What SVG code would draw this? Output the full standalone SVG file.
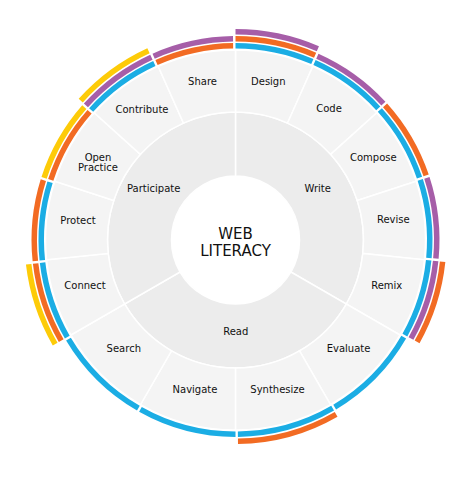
<svg xmlns="http://www.w3.org/2000/svg" width="475" height="477" viewBox="0 0 475 477">
<style>
.seg{stroke:#fff;stroke-width:1.5}
.outer{fill:#f4f4f4}
.mid{fill:#ececec}
.blue{fill:#1badE4}
.orange{fill:#f26b23}
.purple{fill:#a65ea8}
.yellow{fill:#fdcb08}
text{font-family:"DejaVu Sans",Verdana,sans-serif;font-size:10px;fill:#111;text-anchor:middle}
text.title{font-size:15px}
</style>
<defs>
<path id="o24" d="M0,-190 A190,190 0 0 1 77.28,-173.57 L52.06,-116.93 A128,128 0 0 0 0,-128 Z"/>
<path id="o30" d="M0,-190 A190,190 0 0 1 95,-164.54 L64,-110.85 A128,128 0 0 0 0,-128 Z"/>
<path id="m120" d="M0,-128 A128,128 0 0 1 110.85,64 L55.43,32 A64,64 0 0 0 0,-64 Z"/>
<path id="b0_24" d="M0,-197 A197,197 0 0 1 77.92,-180.93 L75.75,-175.88 A191.5,191.5 0 0 0 0,-191.5 Z"/>
<path id="b1_24" d="M0,-204 A204,204 0 0 1 80.69,-187.36 L78.52,-182.31 A198.5,198.5 0 0 0 0,-198.5 Z"/>
<path id="b2_24" d="M0,-211 A211,211 0 0 1 83.46,-193.79 L81.28,-188.74 A205.5,205.5 0 0 0 0,-205.5 Z"/>
<path id="b0_30" d="M0,-197 A197,197 0 0 1 96.41,-171.80 L93.72,-167.00 A191.5,191.5 0 0 0 0,-191.5 Z"/>
<path id="b1_30" d="M0,-204 A204,204 0 0 1 99.83,-177.90 L97.14,-173.11 A198.5,198.5 0 0 0 0,-198.5 Z"/>
</defs>
<rect width="475" height="477" fill="#fff"/>

<g id="write">
<use href="#m120" class="seg mid" transform="translate(235.5 240) rotate(0)"/>
<text x="317.7" y="192">Write</text>
</g>
<g id="read">
<use href="#m120" class="seg mid" transform="translate(235.5 240) rotate(120)"/>
<text x="235.8" y="335">Read</text>
</g>
<g id="participate">
<use href="#m120" class="seg mid" transform="translate(235.5 240) rotate(240)"/>
<text x="153.7" y="192">Participate</text>
</g>

<g id="design">
<g transform="translate(235.5 240) rotate(0)">
<use href="#o24" class="seg outer"/>
<use href="#b0_24" class="blue"/><use href="#b1_24" class="orange"/><use href="#b2_24" class="purple"/>
</g>
<text x="268.3" y="85">Design</text>
</g>
<g id="code">
<g transform="translate(235.5 240) rotate(24)">
<use href="#o24" class="seg outer"/>
<use href="#b0_24" class="blue"/><use href="#b1_24" class="purple"/>
</g>
<text x="329" y="111.5">Code</text>
</g>
<g id="compose">
<g transform="translate(235.5 240) rotate(48)">
<use href="#o24" class="seg outer"/>
<use href="#b0_24" class="blue"/><use href="#b1_24" class="orange"/>
</g>
<text x="373.3" y="160.5">Compose</text>
</g>
<g id="revise">
<g transform="translate(235.5 240) rotate(72)">
<use href="#o24" class="seg outer"/>
<use href="#b0_24" class="blue"/><use href="#b1_24" class="purple"/>
</g>
<text x="393.3" y="222.5">Revise</text>
</g>
<g id="remix">
<g transform="translate(235.5 240) rotate(96)">
<use href="#o24" class="seg outer"/>
<use href="#b0_24" class="blue"/><use href="#b1_24" class="purple"/><use href="#b2_24" class="orange"/>
</g>
<text x="386.7" y="289">Remix</text>
</g>

<g id="evaluate">
<g transform="translate(235.5 240) rotate(120)">
<use href="#o30" class="seg outer"/>
<use href="#b0_30" class="blue"/>
</g>
<text x="348.5" y="352">Evaluate</text>
</g>
<g id="synthesize">
<g transform="translate(235.5 240) rotate(150)">
<use href="#o30" class="seg outer"/>
<use href="#b0_30" class="blue"/><use href="#b1_30" class="orange"/>
</g>
<text x="277.5" y="393">Synthesize</text>
</g>
<g id="navigate">
<g transform="translate(235.5 240) rotate(180)">
<use href="#o30" class="seg outer"/>
<use href="#b0_30" class="blue"/>
</g>
<text x="195" y="393">Navigate</text>
</g>
<g id="search">
<g transform="translate(235.5 240) rotate(210)">
<use href="#o30" class="seg outer"/>
<use href="#b0_30" class="blue"/>
</g>
<text x="123.8" y="352">Search</text>
</g>

<g id="connect">
<g transform="translate(235.5 240) rotate(240)">
<use href="#o24" class="seg outer"/>
<use href="#b0_24" class="blue"/><use href="#b1_24" class="orange"/><use href="#b2_24" class="yellow"/>
</g>
<text x="85" y="289">Connect</text>
</g>
<g id="protect">
<g transform="translate(235.5 240) rotate(264)">
<use href="#o24" class="seg outer"/>
<use href="#b0_24" class="blue"/><use href="#b1_24" class="orange"/>
</g>
<text x="78" y="224">Protect</text>
</g>
<g id="open-practice">
<g transform="translate(235.5 240) rotate(288)">
<use href="#o24" class="seg outer"/>
<use href="#b0_24" class="orange"/><use href="#b1_24" class="yellow"/>
</g>
<text x="98" y="160.5">Open</text>
<text x="98" y="170.5">Practice</text>
</g>
<g id="contribute">
<g transform="translate(235.5 240) rotate(312)">
<use href="#o24" class="seg outer"/>
<use href="#b0_24" class="blue"/><use href="#b1_24" class="purple"/><use href="#b2_24" class="yellow"/>
</g>
<text x="142" y="112.5">Contribute</text>
</g>
<g id="share">
<g transform="translate(235.5 240) rotate(336)">
<use href="#o24" class="seg outer"/>
<use href="#b0_24" class="orange"/><use href="#b1_24" class="purple"/>
</g>
<text x="202.5" y="85">Share</text>
</g>

<g id="web-literacy">
<circle cx="235.5" cy="240" r="63.3" fill="#fff"/>
<text class="title" x="235.5" y="239">WEB</text>
<text class="title" x="235.5" y="255.5">LITERACY</text>
</g>
</svg>
